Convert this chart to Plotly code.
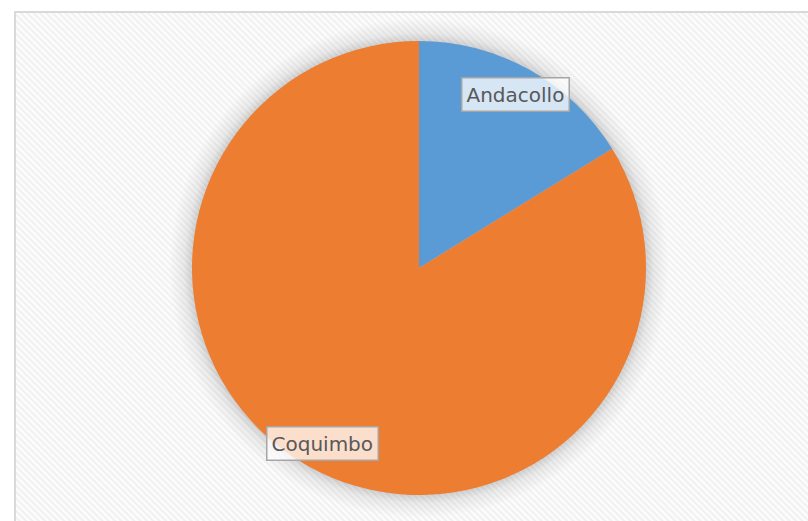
import base64
import plotly.graph_objects as go

# Data
categories = ["Andacollo", "Coquimbo"]
values = [16.2, 83.8]
colors = ["#5B9BD5", "#ED7D31"]

W, H = 808, 521

def px(x):
    return x / W

def py(y):
    return 1 - y / H

# Hatched background with soft shadow behind the pie (decoration)
bx, by = 15, 12
bg_w, bg_h = W - bx + 10, H - by + 10
cx, cy = 419 - bx, 268 - by
svg = f'''<svg xmlns="http://www.w3.org/2000/svg" width="{bg_w}" height="{bg_h}" viewBox="0 0 {bg_w} {bg_h}">
<defs>
<pattern id="p" width="4.5" height="4.5" patternUnits="userSpaceOnUse" patternTransform="rotate(45)">
<rect width="4.5" height="4.5" fill="#fdfdfd"/>
<rect width="4.5" height="2.2" fill="#f1f1f1"/>
</pattern>
<radialGradient id="g" cx="{cx}" cy="{cy}" r="250" gradientUnits="userSpaceOnUse">
<stop offset="0.89" stop-color="#000" stop-opacity="0.22"/>
<stop offset="0.94" stop-color="#000" stop-opacity="0.07"/>
<stop offset="1" stop-color="#000" stop-opacity="0"/>
</radialGradient>
</defs>
<rect width="{bg_w}" height="{bg_h}" fill="url(#p)"/>
<circle cx="{cx}" cy="{cy}" r="250" fill="url(#g)"/>
</svg>'''
src = "data:image/svg+xml;base64," + base64.b64encode(svg.encode()).decode()

fig = go.Figure(go.Pie(
    labels=categories,
    values=values,
    marker=dict(colors=colors, line=dict(width=0)),
    sort=False,
    direction="clockwise",
    rotation=0,
    textinfo="none",
    hoverinfo="label+percent",
    domain=dict(x=[px(192), px(646)], y=[py(495), py(41)]),
    showlegend=False,
))

label_font = dict(family="DejaVu Sans", size=20, color="#595959")
for name, (lx, ly) in zip(categories, [(515.5, 94), (322.5, 443.5)]):
    fig.add_annotation(x=px(lx), y=py(ly), xref="paper", yref="paper",
                       text=name, showarrow=False, font=label_font,
                       bgcolor="rgba(255,255,255,0.75)", bordercolor="#a6a6a6",
                       borderwidth=1.5, borderpad=4, xanchor="center", yanchor="middle")

fig.add_layout_image(dict(source=src, xref="paper", yref="paper",
                          x=px(bx), y=py(by), sizex=bg_w / W, sizey=bg_h / H,
                          xanchor="left", yanchor="top", sizing="stretch", layer="below"))

fig.add_shape(type="rect", xref="paper", yref="paper",
              x0=px(bx), y0=-0.1, x1=1.1, y1=py(by),
              line=dict(color="#d9d9d9", width=2), fillcolor="rgba(0,0,0,0)")

fig.update_layout(width=W, height=H, margin=dict(l=0, r=0, t=0, b=0),
                  paper_bgcolor="#ffffff", plot_bgcolor="#ffffff")

fig.write_html("out.html", config={"displayModeBar": False},
               post_script="document.body.style.margin='0';document.body.style.overflow='hidden';")
